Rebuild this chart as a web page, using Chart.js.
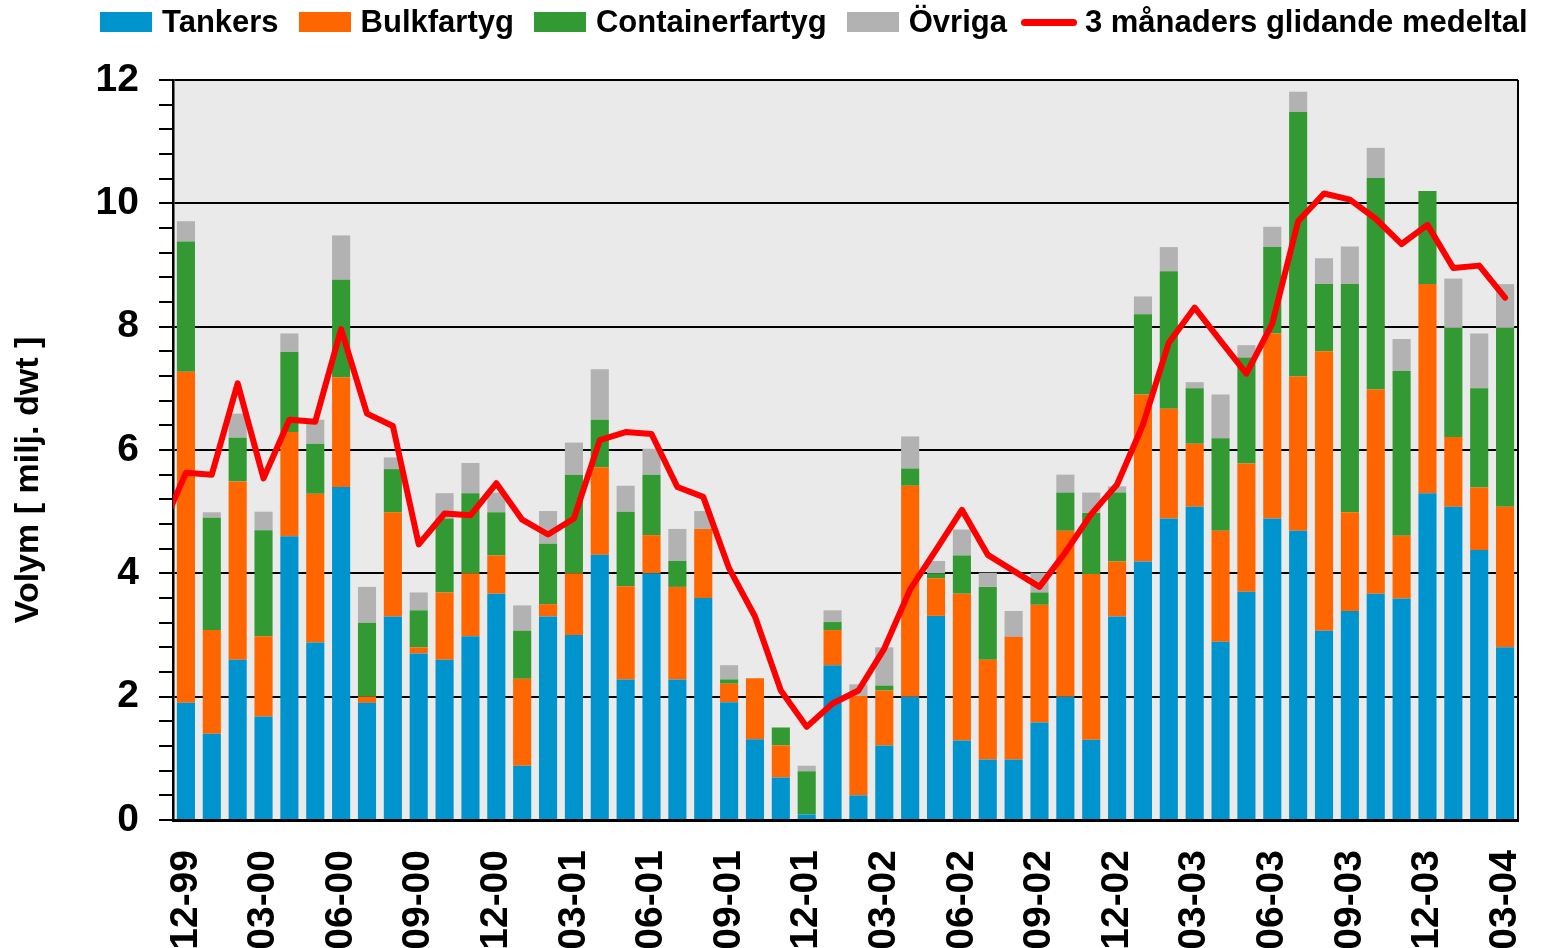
<!DOCTYPE html>
<html lang="sv">
<head>
<meta charset="utf-8">
<title>Volym per fartygstyp</title>
<script src="https://cdn.jsdelivr.net/npm/chart.js@4.4.1/dist/chart.umd.min.js"></script>
<style>
  html, body { margin: 0; padding: 0; background: #fff; }
  #wrap { position: relative; width: 1542px; height: 948px; }
  #legend {
    position: absolute; left: 100px; top: 0; height: 44px;
    display: flex; align-items: center;
    font: bold 31px "Liberation Sans", Arial, sans-serif; color: #000;
  }
  #legend .item { display: flex; align-items: center; margin-right: 20px; white-space: nowrap; }
  #legend .box { width: 52px; height: 20px; margin-right: 10px; }
  #legend .line { width: 56px; height: 7px; border-radius: 4px; margin-right: 8px; margin-left: -6px; }
</style>
</head>
<body>
<div id="wrap">
  <div id="legend"></div>
  <canvas id="chart" width="1542" height="948"></canvas>
</div>
<script>
const manader = [
  "12-99", "01-00", "02-00", "03-00", "04-00", "05-00", "06-00", "07-00", "08-00", "09-00", "10-00", "11-00",
  "12-00", "01-01", "02-01", "03-01", "04-01", "05-01", "06-01", "07-01", "08-01", "09-01", "10-01", "11-01",
  "12-01", "01-02", "02-02", "03-02", "04-02", "05-02", "06-02", "07-02", "08-02", "09-02", "10-02", "11-02",
  "12-02", "01-03", "02-03", "03-03", "04-03", "05-03", "06-03", "07-03", "08-03", "09-03", "10-03", "11-03",
  "12-03", "01-04", "02-04", "03-04",
];

// milj. dwt per månad
const tankers = [
  1.90, 1.40, 2.60, 1.68, 4.60, 2.88, 5.40, 1.90, 3.30, 2.70, 2.60, 2.98,
  3.67, 0.88, 3.30, 3.00, 4.30, 2.28, 4.00, 2.28, 3.60, 1.91, 1.31, 0.69,
  0.09, 2.51, 0.40, 1.21, 2.00, 3.31, 1.29, 0.98, 0.98, 1.58, 2.00, 1.30,
  3.30, 4.19, 4.89, 5.08, 2.89, 3.70, 4.89, 4.69, 3.07, 3.39, 3.67, 3.59,
  5.30, 5.08, 4.38, 2.80,
];
const bulkfartyg = [
  5.37, 1.68, 2.89, 1.30, 1.69, 2.41, 1.78, 0.10, 1.69, 0.10, 1.09, 1.02,
  0.62, 1.41, 0.20, 1.00, 1.42, 1.51, 0.62, 1.50, 1.12, 0.30, 0.99, 0.52,
  0.00, 0.57, 1.61, 0.89, 3.42, 0.61, 2.38, 1.62, 1.99, 1.91, 2.69, 2.69,
  0.89, 2.71, 1.78, 1.02, 1.80, 2.08, 3.00, 2.50, 4.53, 1.60, 3.31, 1.02,
  3.39, 1.13, 1.01, 2.28,
];
const containerfartyg = [
  2.11, 1.82, 0.71, 1.72, 1.30, 0.81, 1.58, 1.20, 0.70, 0.60, 1.20, 1.30,
  0.70, 0.78, 0.98, 1.60, 0.77, 1.21, 0.98, 0.42, 0.00, 0.07, 0.00, 0.29,
  0.70, 0.13, 0.00, 0.08, 0.28, 0.08, 0.62, 1.18, 0.00, 0.20, 0.62, 0.99,
  1.12, 1.30, 2.23, 0.90, 1.50, 1.72, 1.40, 4.29, 1.09, 3.70, 3.43, 2.67,
  1.51, 1.77, 1.61, 2.90,
];
const ovriga = [
  0.33, 0.09, 0.39, 0.30, 0.30, 0.39, 0.72, 0.58, 0.19, 0.29, 0.41, 0.49,
  0.32, 0.41, 0.53, 0.52, 0.82, 0.42, 0.42, 0.52, 0.29, 0.23, 0.00, 0.00,
  0.09, 0.19, 0.19, 0.62, 0.52, 0.20, 0.42, 0.23, 0.42, 0.32, 0.29, 0.33,
  0.10, 0.29, 0.39, 0.10, 0.71, 0.20, 0.33, 0.33, 0.42, 0.61, 0.49, 0.52,
  0.00, 0.80, 0.89, 0.71,
];

// glidande medeltal, börjar en månad före första stapeln (11-99)
const medelStart = -1;
const glidande = [
  4.67,
  5.63, 5.60, 7.08, 5.54, 6.49, 6.46, 7.96, 6.59, 6.39, 4.47, 4.97, 4.94,
  5.46, 4.87, 4.63, 4.89, 6.16, 6.29, 6.26, 5.40, 5.24, 4.08, 3.30, 2.10,
  1.51, 1.89, 2.10, 2.78, 3.74, 4.38, 5.03, 4.30, 4.04, 3.78, 4.34, 4.96,
  5.44, 6.41, 7.74, 8.31, 7.77, 7.24, 8.05, 9.71, 10.16, 10.06, 9.75, 9.34,
  9.65, 8.95, 8.99, 8.47,
];

const yMax = 12;
const yStep = 0.4;
const yLabelStep = 2;

const FONT = '"Liberation Sans", Arial, sans-serif';
const isMajor = (v) => Math.abs(v / yLabelStep - Math.round(v / yLabelStep)) < 1e-6;

const series = [
  { label: "Tankers", data: tankers, color: "#0094CE" },
  { label: "Bulkfartyg", data: bulkfartyg, color: "#FF6600" },
  { label: "Containerfartyg", data: containerfartyg, color: "#339933" },
  { label: "Övriga", data: ovriga, color: "#B2B2B2" },
];
const medelLabel = "3 månaders glidande medeltal";

// plot area fill, right edge and y title
const plotFrame = {
  id: "plotFrame",
  beforeDraw(chart) {
    const { ctx, chartArea: a } = chart;
    ctx.save();
    ctx.fillStyle = "#EAEAEA";
    ctx.fillRect(a.left, a.top, a.right - a.left, a.bottom - a.top);
    ctx.strokeStyle = "#000";
    ctx.lineWidth = 2;
    ctx.beginPath();
    ctx.moveTo(a.right, a.top);
    ctx.lineTo(a.right, a.bottom);
    ctx.stroke();
    ctx.restore();
  },
  afterDraw(chart) {
    const { ctx } = chart;
    ctx.save();
    ctx.translate(29, 480);
    ctx.rotate(-Math.PI / 2);
    ctx.font = `bold 34px ${FONT}`;
    ctx.fillStyle = "#000";
    ctx.textAlign = "center";
    ctx.textBaseline = "middle";
    ctx.fillText("Volym [ milj. dwt ]", 0, 0);
    ctx.restore();
  },
};

const datasets = [
  {
    type: "line",
    label: medelLabel,
    data: glidande.map((v, i) => ({ x: i + medelStart, y: v })),
    xAxisID: "x2",
    stack: "medel",
    borderColor: "#FF0000",
    borderWidth: 6,
    borderJoinStyle: "round",
    borderCapStyle: "round",
    pointRadius: 0,
    tension: 0,
    fill: false,
    clip: 0,
    order: 0,
  },
  ...series.map((s) => ({
    type: "bar",
    label: s.label,
    data: s.data,
    backgroundColor: s.color,
    borderWidth: 0,
    stack: "fartyg",
    grouped: false,
    barPercentage: 0.7,
    categoryPercentage: 1.0,
    order: 1,
  })),
];

new Chart(document.getElementById("chart"), {
  data: { labels: manader, datasets },
  options: {
    responsive: false,
    animation: false,
    layout: { padding: { top: 80, right: 24, left: 0, bottom: 0 } },
    plugins: { legend: { display: false }, tooltip: { enabled: false } },
    scales: {
      x: {
        type: "category",
        stacked: true,
        offset: true,
        grid: { display: false, drawTicks: false },
        border: { color: "#000", width: 3 },
        ticks: {
          autoSkip: false,
          minRotation: 90,
          maxRotation: 90,
          padding: 30,
          color: "#000",
          font: { family: FONT, size: 39, weight: "bold" },
          callback: function (value, index) {
            return index % 3 === 0 ? this.getLabelForValue(value) : "";
          },
        },
        afterFit: (s) => { s.height = 128; s.paddingLeft = 0; s.paddingRight = 0; },
      },
      x2: {
        type: "linear",
        display: false,
        min: -0.5,
        max: manader.length - 0.5,
        offset: false,
      },
      y: {
        stacked: true,
        min: 0,
        max: yMax,
        grid: {
          color: (c) => (c.tick && isMajor(c.tick.value) ? "#000" : "rgba(0,0,0,0)"),
          tickColor: "#000",
          lineWidth: 2,
          tickLength: 14,
        },
        border: { color: "#000", width: 2.5 },
        ticks: {
          stepSize: yStep,
          autoSkip: false,
          padding: 20,
          color: "#000",
          font: { family: FONT, size: 39, weight: "bold" },
          callback: (v) => (isMajor(v) ? Math.round(v) : ""),
        },
        afterFit: (s) => { s.width = 173; },
      },
    },
  },
  plugins: [plotFrame],
});

// legend in HTML, same order as reference
const legend = document.getElementById("legend");
series.forEach((s) => {
  const item = document.createElement("div");
  item.className = "item";
  const box = document.createElement("span");
  box.className = "box";
  box.style.background = s.color;
  const txt = document.createElement("span");
  txt.textContent = s.label;
  item.appendChild(box);
  item.appendChild(txt);
  legend.appendChild(item);
});
const lineItem = document.createElement("div");
lineItem.className = "item";
const sw = document.createElement("span");
sw.className = "line";
sw.style.background = "#FF0000";
const lt = document.createElement("span");
lt.textContent = medelLabel;
lineItem.appendChild(sw);
lineItem.appendChild(lt);
legend.appendChild(lineItem);
</script>
</body>
</html>
